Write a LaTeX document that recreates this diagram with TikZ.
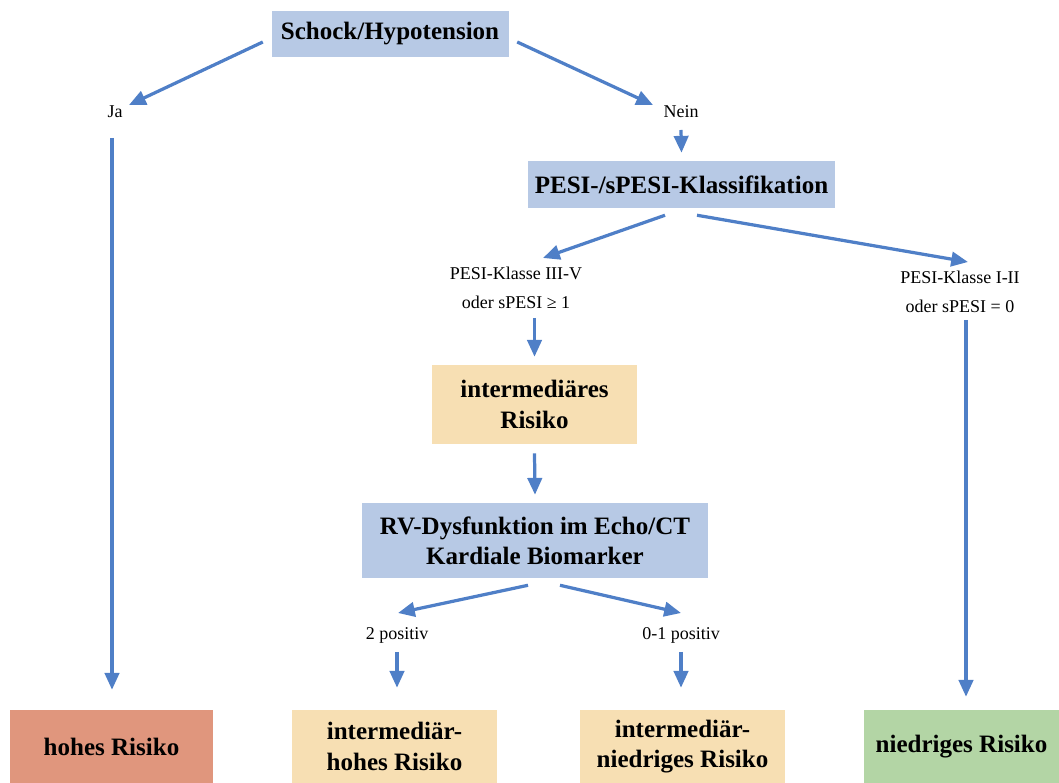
\documentclass[tikz,border=0pt]{standalone}
\usepackage{fontspec}
\setmainfont{Liberation Serif}
\usepackage{tikz}
\usetikzlibrary{arrows.meta,calc}
\definecolor{qblue}{HTML}{B7C9E5}
\definecolor{riskhigh}{HTML}{E0967D}
\definecolor{riskmid}{HTML}{F7DFB3}
\definecolor{risklow}{HTML}{B3D5A5}
\definecolor{arrblue}{HTML}{4F7FC7}

\begin{document}
\begin{tikzpicture}[
    question/.style={fill=qblue, font=\bfseries\fontsize{17.8}{21.5}\selectfont, align=center, inner sep=0pt},
    risk/.style={font=\bfseries\fontsize{17.8}{21.5}\selectfont, align=center, inner sep=0pt, minimum height=1.825cm},
    answer/.style={font=\fontsize{12.8}{20.5}\selectfont, align=center, inner sep=1pt},
    arr/.style={draw=arrblue, line width=2.3pt, -{Triangle[length=0.42cm,width=0.36cm]}}
    ]
    %frame
\useasboundingbox (0,0) rectangle (26.475,19.575);

    \node[question, minimum width=5.925cm, minimum height=1.15cm] (schock) at (9.75,18.725) {Schock/Hypotension};
    \node[answer] (ja)     at (2.875,16.775) {Ja};
    \node[answer] (nein)   at (17.025,16.775) {Nein};
    \node[question, minimum width=7.675cm, minimum height=1.175cm] (pesi) at (17.0375,14.963) {PESI-/sPESI-Klassifikation};
    \node[answer] (pesihigh) at (12.9,12.375) {PESI-Klasse III-V\\oder sPESI ≥ 1};
    \node[answer] (pesilow)  at (24.0,12.275) {PESI-Klasse I-II\\oder sPESI = 0};
    \node[risk, fill=riskmid, minimum width=5.125cm, minimum height=1.975cm] (inter) at (13.3625,9.4625) {intermediäres\\Risiko};
    \node[question, minimum width=8.65cm, minimum height=1.875cm] (rv) at (13.375,6.0625) {RV-Dysfunktion im Echo/CT\\Kardiale Biomarker};
    \node[answer] (twopos) at (9.925,3.7) {2 positiv};
    \node[answer] (onepos) at (17.025,3.7) {0-1 positiv};
    % bottom row (cut at the lower edge)
    \node[risk, fill=riskhigh, minimum width=5.075cm] (high)    at (2.7875,0.9125) {hohes Risiko};
    \node[risk, fill=riskmid, minimum width=5.125cm]  (midhigh) at (9.8625,0.9125) {intermediär-\\hohes Risiko};
    \node[risk, fill=riskmid, minimum width=5.125cm]  (midlow)  at (17.0625,0.9125) {intermediär-\\niedriges Risiko};
    \node[risk, fill=risklow, minimum width=4.875cm]  (low)     at (24.0375,0.9125) {niedriges Risiko};

    \draw[arr] ([xshift=-0.21cm,yshift=-0.2cm]schock.west) -- ($(ja.center)+(0.35,0.175)$);
    \draw[arr] ([xshift=0.21cm,yshift=-0.2cm]schock.east) -- ($(nein.center)+(-0.7,0.175)$);
    \draw[arr] ($(ja.center)+(-0.075,-0.65)$) -- ($(ja.center |- high.north)+(-0.075,0.5)$);
    \draw[arr] ($(nein.center)+(0,-0.45)$) -- ([yshift=0.2cm]pesi.north);
    \draw[arr] ([xshift=-0.4125cm,yshift=-0.175cm]pesi.south) -- ($(pesihigh.center)+(0.675,0.75)$);
    \draw[arr] ([xshift=0.3875cm,yshift=-0.175cm]pesi.south) -- ($(pesilow.center)+(0.2,0.75)$);
    \draw[arr] ($(pesihigh.center -| inter.center)+(0,-0.75)$) -- ([yshift=0.2cm]inter.north);
    \draw[arr] ($(pesilow.center)+(0.15,-0.7)$) -- ($(pesilow.center |- low.north)+(0.15,0.325)$);
    \draw[arr] ([yshift=-0.225cm]inter.south) -- ([yshift=0.2cm]rv.north);
    \draw[arr] ([xshift=-0.175cm,yshift=-0.175cm]rv.south) -- ($(twopos.center)+(0.025,0.55)$);
    \draw[arr] ([xshift=0.625cm,yshift=-0.175cm]rv.south) -- ($(onepos.center)+(0,0.55)$);
    \draw[arr] ($(twopos.center)+(0,-0.425)$) -- ($(twopos.center |- midhigh.north)+(0,0.55)$);
    \draw[arr] ($(onepos.center)+(0,-0.425)$) -- ($(onepos.center |- midlow.north)+(0,0.55)$);
\end{tikzpicture}
\end{document}
